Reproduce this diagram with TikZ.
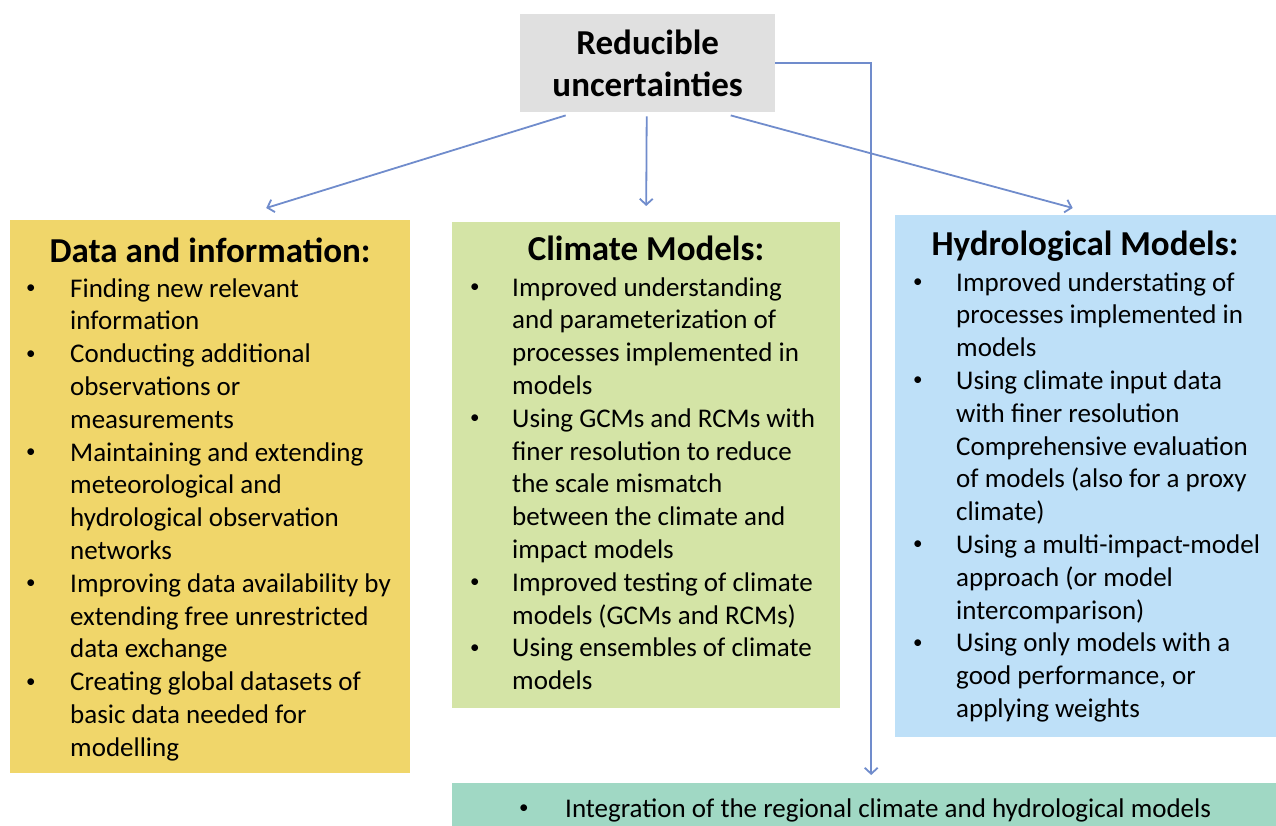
\documentclass[tikz,border=0pt]{standalone}
\usepackage{fontspec}
\setmainfont{Carlito}
\usetikzlibrary{arrows.meta,calc}
\definecolor{topgray}{RGB}{224,224,224}
\definecolor{ygold}{RGB}{240,214,106}
\definecolor{lgreen}{RGB}{212,228,166}
\definecolor{lblue}{RGB}{190,224,248}
\definecolor{teal}{RGB}{160,216,196}
\definecolor{arrowc}{RGB}{112,140,204}
\newcommand{\smbul}{\raisebox{3.5pt}{\fontsize{19}{19}\selectfont\textbullet}}
\tikzset{
  box/.style={draw=none, inner sep=0pt, anchor=north west},
  conn/.style={draw=arrowc, line width=1.8pt, -{Straight Barb[length=6pt,width=13pt]}},
  head/.style={font=\fontsize{35}{42}\selectfont\bfseries, anchor=base, inner sep=0pt},
  lst/.style={font=\fontsize{27}{32.8}\selectfont, anchor=base west, inner sep=0pt},
}
\begin{document}
\begin{tikzpicture}[x=1pt,y=-1pt]
\useasboundingbox (0,0) rectangle (1276,826);
% boxes
\node[box, fill=topgray, minimum width=255pt, minimum height=98pt, align=center,
      font=\fontsize{35}{42}\selectfont\bfseries] (top) at (520,14) {Reducible\\uncertainties};
\node[box, fill=ygold, minimum width=400pt, minimum height=553pt] (data) at (10,220) {};
\node[box, fill=lgreen, minimum width=388pt, minimum height=486pt] (clim) at (452,222) {};
\node[box, fill=lblue, minimum width=381pt, minimum height=522pt] (hydro) at (895,215) {};
\node[box, fill=teal, minimum width=824pt, minimum height=43pt] (integ) at (452,783) {};
% headings
\node[head] (datah) at (210,262) {Data and information:};
\node[head] (climh) at (646,261) {Climate Models:};
\node[head] (hydroh) at (1085,256) {Hydrological Models:};
% lists
\node[lst] (datal) at (26,297) {\begin{tabular}[t]{@{}p{44pt}@{}l@{}}
\smbul & Finding new relevant\\
 & information\\
\smbul & Conducting additional\\
 & observations or\\
 & measurements\\
\smbul & Maintaining and extending\\
 & meteorological and\\
 & hydrological observation\\
 & networks\\
\smbul & Improving data availability by\\
 & extending free unrestricted\\
 & data exchange\\
\smbul & Creating global datasets of\\
 & basic data needed for\\
 & modelling
\end{tabular}};
\node[lst] (climl) at (470,296) {\begin{tabular}[t]{@{}p{42pt}@{}l@{}}
\smbul & Improved understanding\\
 & and parameterization of\\
 & processes implemented in\\
 & models\\
\smbul & Using GCMs and RCMs with\\
 & finer resolution to reduce\\
 & the scale mismatch\\
 & between the climate and\\
 & impact models\\
\smbul & Improved testing of climate\\
 & models (GCMs and RCMs)\\
\smbul & Using ensembles of climate\\
 & models
\end{tabular}};
\node[lst] (hydrol) at (913,291) {\begin{tabular}[t]{@{}p{43pt}@{}l@{}}
\smbul & Improved understating of\\
 & processes implemented in\\
 & models\\
\smbul & Using climate input data\\
 & with finer resolution\\
 & Comprehensive evaluation\\
 & of models (also for a proxy\\
 & climate)\\
\smbul & Using a multi-impact-model\\
 & approach (or model\\
 & intercomparison)\\
\smbul & Using only models with a\\
 & good performance, or\\
 & applying weights
\end{tabular}};
\node[lst] (integl) at (519,817) {\begin{tabular}[t]{@{}p{46pt}@{}l@{}}
\smbul & Integration of the regional climate and hydrological models
\end{tabular}};
% connectors
\draw[conn] ($(top.south)+(-82,3)$) -- ($(data.north)+(56,-12)$);
\draw[conn] ($(top.south)+(-1,4)$) -- ($(clim.north)+(0,-16)$);
\draw[conn] ($(top.south)+(83,3)$) -- ($(hydro.north)+(-13,-7)$);
\draw[conn] (top.east) -| ($(integ.north)+(7,-8)$);
\end{tikzpicture}
\end{document}
